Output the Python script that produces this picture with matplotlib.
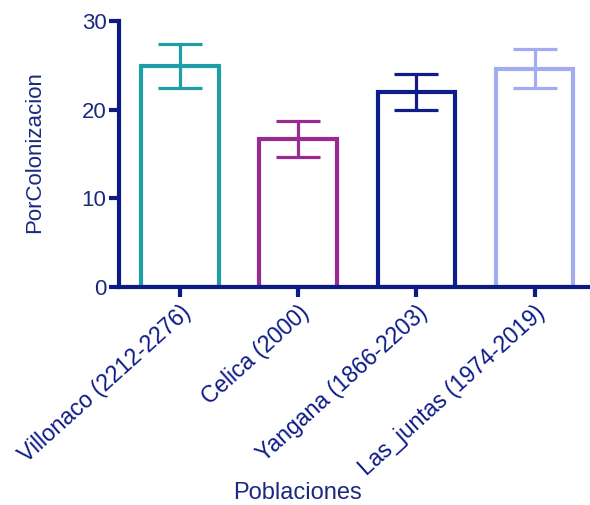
import matplotlib
matplotlib.use('Agg')
import matplotlib.pyplot as plt
import numpy as np

plt.rcParams['font.family'] = ['Liberation Sans', 'DejaVu Sans']

poblaciones = ['Villonaco (2212-2276)', 'Celica (2000)',
               'Yangana (1866-2203)', 'Las_juntas (1974-2019)']
medias = [24.9, 16.7, 22.0, 24.6]
errores = [2.5, 2.0, 2.0, 2.2]
colores = ['#1f9ea8', '#992a93', '#0f1d8a', '#a3acf0']

azul = '#0c1a86'
texto = '#1b2a80'

fig = plt.figure(figsize=(5.9, 5.05), dpi=100)
ax = fig.add_axes([119 / 590, 218 / 505, 471 / 590, 266 / 505])

x = np.arange(len(poblaciones))
ax.bar(x, medias, width=0.66, facecolor='white', edgecolor=colores, linewidth=3.0, zorder=2)
for xi, m, e, c in zip(x, medias, errores, colores):
    ax.errorbar(xi, m, yerr=e, fmt='none', ecolor=c, elinewidth=2.3,
                capsize=16, capthick=2.3, zorder=3)

ax.set_xlim(-0.52, 3.47)
ax.set_ylim(0, 30)
ax.set_yticks([0, 10, 20, 30])
ax.set_xticks(x)
ax.set_xticklabels(poblaciones, rotation=42, ha='right', rotation_mode='anchor',
                   fontsize=16.5, color=texto)

for s in ['top', 'right']:
    ax.spines[s].set_visible(False)
for s in ['left', 'bottom']:
    ax.spines[s].set_color(azul)
    ax.spines[s].set_linewidth(3.0)

ax.tick_params(axis='y', colors=azul, width=3.0, length=7, labelsize=16,
               labelcolor=texto, pad=2)
ax.tick_params(axis='x', colors=azul, width=3.0, length=7, pad=3)

ax.set_ylabel('PorColonizacion', fontsize=16, color=texto)
ax.yaxis.set_label_coords(-0.157, 0.507)
ax.set_xlabel('Poblaciones', fontsize=17, color=texto, va='center')
ax.xaxis.set_label_coords(0.38, -0.774)

fig.savefig('out.png', dpi=100)
